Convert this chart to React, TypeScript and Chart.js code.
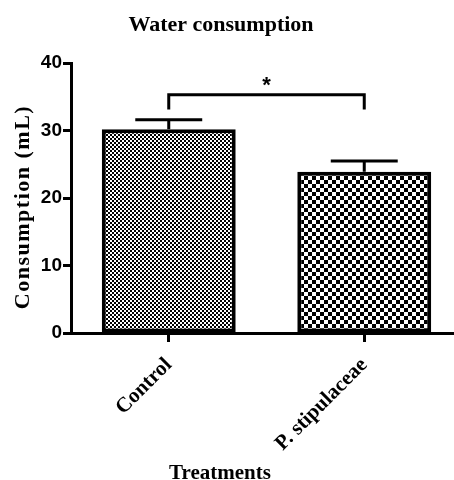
import { useEffect, useRef } from 'react';
import { Chart, registerables } from 'chart.js';

Chart.register(...registerables);

// ---- data ----
const categories = ['Control', 'P. stipulaceae'];
const meanValues = [30.2, 23.9];
const semValues = [1.4, 1.6];
const yTicks = [0, 10, 20, 30, 40];
const sigPair = [0, 1];
const sigLevels = [33.1, 35.3]; // leg bottom, bracket top
const sigLabel = '*';
const chartTitle = 'Water consumption';
const yTitle = 'Consumption (mL)';
const xTitle = 'Treatments';
const patternCells = [2, 4];

function makePattern(cell: number): CanvasPattern | string {
  const c = document.createElement('canvas');
  c.width = cell * 2;
  c.height = cell * 2;
  const ctx = c.getContext('2d');
  if (!ctx) return '#888';
  ctx.fillStyle = '#fff';
  ctx.fillRect(0, 0, cell * 2, cell * 2);
  ctx.fillStyle = '#000';
  ctx.fillRect(0, 0, cell, cell);
  ctx.fillRect(cell, cell, cell, cell);
  return ctx.createPattern(c, 'repeat') || '#888';
}

const annotationsPlugin = {
  id: 'annotations',
  afterDatasetsDraw(chart: any) {
    const { ctx } = chart;
    const y = chart.scales.y;
    const meta = chart.getDatasetMeta(0);
    ctx.save();
    ctx.strokeStyle = '#000';
    ctx.lineWidth = 3;
    ctx.lineCap = 'butt';
    ctx.lineJoin = 'miter';
    meta.data.forEach((bar: any, i: number) => {
      const top = y.getPixelForValue(meanValues[i] + semValues[i]);
      const half = bar.width * 0.25;
      ctx.beginPath();
      ctx.moveTo(bar.x, bar.y);
      ctx.lineTo(bar.x, top);
      ctx.moveTo(bar.x - half, top);
      ctx.lineTo(bar.x + half, top);
      ctx.stroke();
    });
    // significance bracket
    const a = meta.data[sigPair[0]];
    const b = meta.data[sigPair[1]];
    const yLeg = y.getPixelForValue(sigLevels[0]);
    const yTop = y.getPixelForValue(sigLevels[1]);
    ctx.beginPath();
    ctx.moveTo(a.x, yLeg);
    ctx.lineTo(a.x, yTop);
    ctx.lineTo(b.x, yTop);
    ctx.lineTo(b.x, yLeg);
    ctx.stroke();
    ctx.fillStyle = '#000';
    ctx.font = 'bold 22px "Liberation Sans"';
    ctx.textAlign = 'center';
    ctx.textBaseline = 'alphabetic';
    ctx.fillText(sigLabel, (a.x + b.x) / 2, yTop - 3);
    ctx.restore();
  },
  afterDraw(chart: any) {
    const { ctx } = chart;
    ctx.save();
    ctx.fillStyle = '#000';
    ctx.textAlign = 'center';
    ctx.font = 'bold 22px "Liberation Serif"';
    ctx.textBaseline = 'alphabetic';
    ctx.fillText(chartTitle, 221, 31);
    ctx.font = 'bold 21px "Liberation Serif"';
    ctx.fillText(xTitle, 220, 479);
    ctx.translate(23, 207);
    ctx.rotate(-Math.PI / 2);
    ctx.font = 'bold 22px "Liberation Serif"';
    try {
      (ctx as any).letterSpacing = '1.5px';
    } catch (e) {
      /* ignore */
    }
    ctx.textBaseline = 'middle';
    ctx.fillText(yTitle, 0, 0);
    ctx.restore();
  },
};

export default function App() {
  const ref = useRef<HTMLCanvasElement | null>(null);

  useEffect(() => {
    if (!ref.current) return;
    const patterns = patternCells.map((c) => makePattern(c));
    const chart = new Chart(ref.current, {
      type: 'bar',
      data: {
        labels: categories,
        datasets: [
          {
            data: meanValues,
            backgroundColor: patterns as any,
            borderColor: '#000',
            borderWidth: 4,
            borderSkipped: false,
            barPercentage: 0.685,
            categoryPercentage: 1,
          },
        ],
      },
      options: {
        responsive: false,
        animation: false,
        layout: { padding: { top: 63, left: 0, right: 0, bottom: 0 } },
        plugins: {
          legend: { display: false },
          tooltip: { enabled: false },
          title: { display: false },
        },
        scales: {
          x: {
            grid: {
              offset: false,
              drawOnChartArea: false,
              drawTicks: true,
              tickLength: 9,
              tickWidth: 3,
              tickColor: '#000',
            },
            border: { display: true, color: '#000', width: 3 },
            ticks: {
              color: '#000',
              font: { family: 'Liberation Serif', size: 21, weight: 'bold' },
              maxRotation: 45,
              minRotation: 45,
              padding: 11,
              autoSkip: false,
            },
            afterFit: (s: any) => {
              s.height = 147;
            },
          },
          y: {
            min: 0,
            max: 40,
            grid: {
              drawOnChartArea: false,
              drawTicks: true,
              tickLength: 8,
              tickWidth: 3,
              tickColor: '#000',
            },
            border: { display: true, color: '#000', width: 3 },
            ticks: {
              stepSize: 10,
              padding: 1,
              color: '#000',
              font: { family: 'Liberation Sans', size: 19, weight: 'bold' },
            },
            afterBuildTicks: (s: any) => {
              s.ticks = yTicks.map((v) => ({ value: v }));
            },
            afterFit: (s: any) => {
              s.width = 71;
            },
          },
        },
      },
      plugins: [annotationsPlugin],
    });
    return () => chart.destroy();
  }, []);

  return (
    <div
      style={{
        position: 'absolute',
        left: 0,
        top: 0,
        width: 454,
        height: 480,
        overflow: 'hidden',
        background: '#fff',
      }}
    >
      <canvas ref={ref} width={462} height={480} style={{ display: 'block' }} />
    </div>
  );
}
